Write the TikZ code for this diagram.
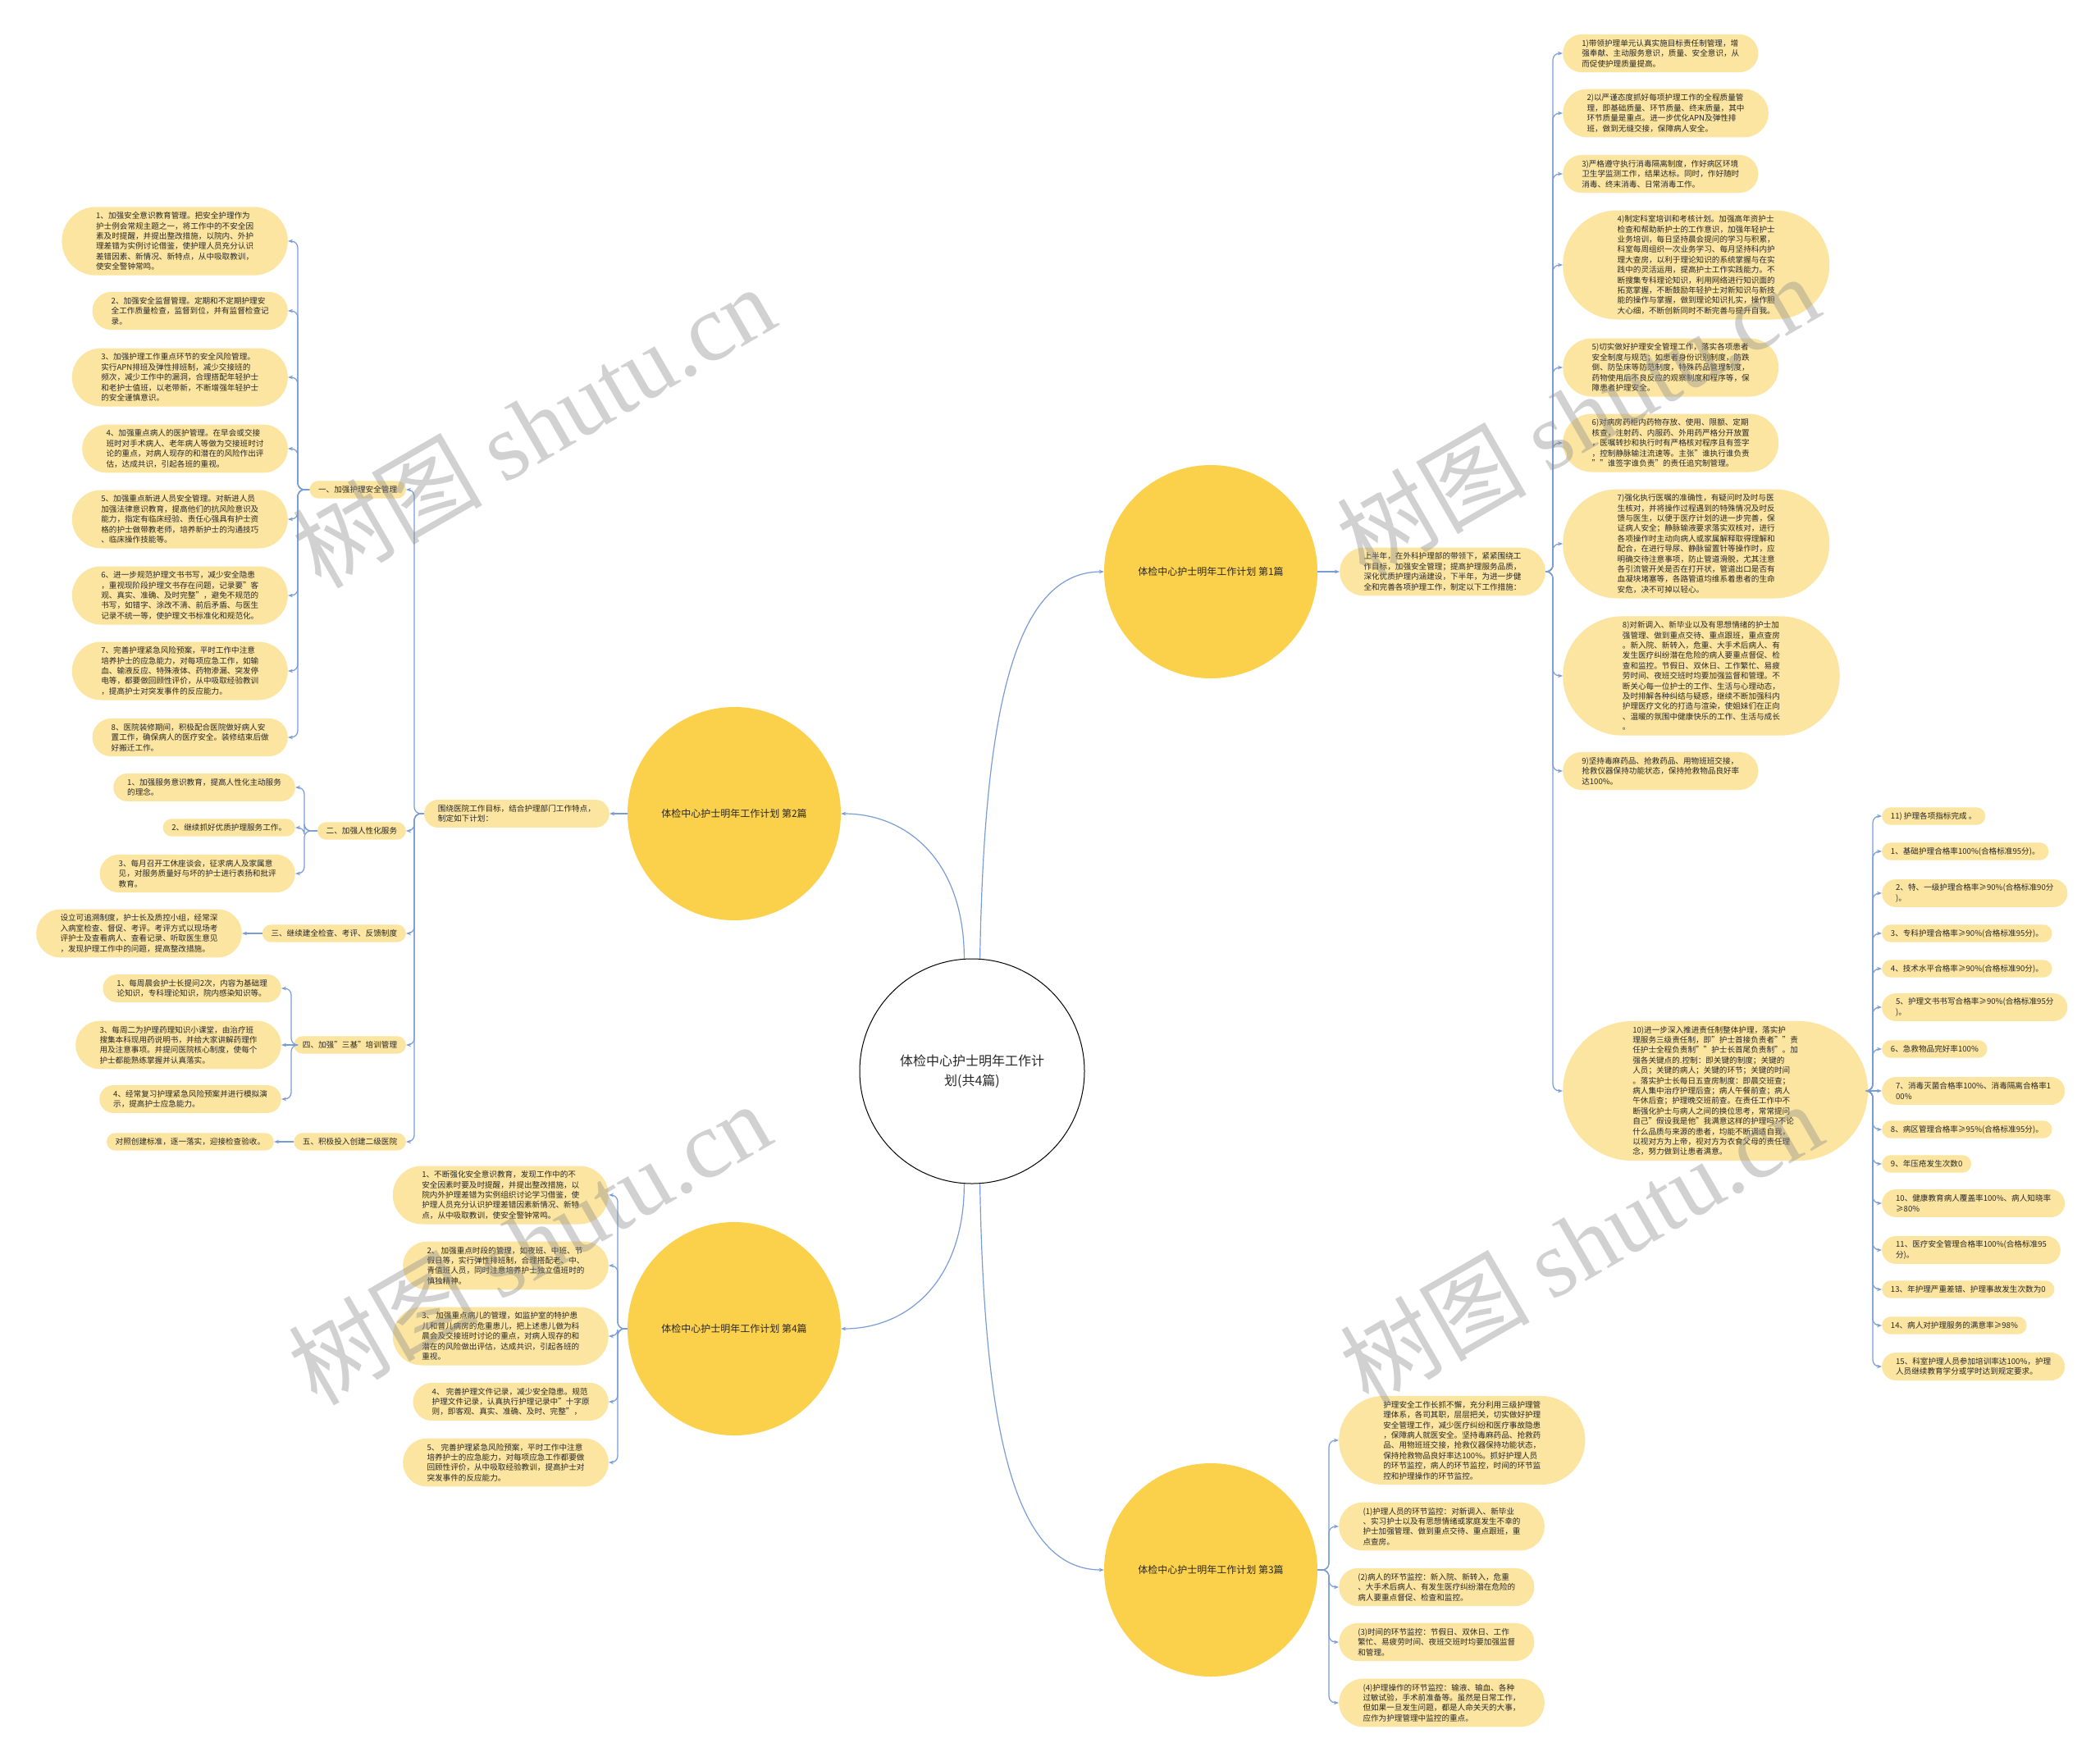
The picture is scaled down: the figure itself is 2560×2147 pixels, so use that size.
\documentclass[tikz,border=0pt]{standalone}
\usepackage{fontspec}
\setmainfont{Noto Sans CJK SC}
\newfontfamily\wmlat{Liberation Serif}
\usetikzlibrary{arrows.meta}
\definecolor{bubfill}{RGB}{252,229,160}
\definecolor{bigfill}{RGB}{251,208,75}
\definecolor{linec}{RGB}{122,156,214}
\definecolor{txt}{RGB}{40,40,40}
\tikzset{
  bub/.style={rectangle, fill=bubfill, text=txt, align=left,
    font=\fontsize{9.6}{12.4}\selectfont,
    minimum height={#1*12.4+9}, inner ysep=0pt,
    inner xsep={(#1*12.4+9)/2}, rounded corners={(#1*12.4+9)/2-0.05}},
  big/.style={circle, fill=bigfill, text=txt, minimum size=260pt,
    font=\fontsize{12}{14}\selectfont},
  conn/.style={draw=linec, line width=1.2pt, rounded corners=8pt,
    -{Stealth[length=6pt,width=4.5pt]}},
  wm/.style={text=black!45, text opacity=0.4, rotate=30,
    font=\fontsize{116}{116}\selectfont}
}
\begin{document}
\begin{tikzpicture}[x=1pt,y=-1pt]
\useasboundingbox (0,0) rectangle (2560,2147);
\fill[white] (0,0) rectangle (2560,2147);

% centre and main branches
\node[circle, draw=black, line width=1pt, fill=white, text=txt, minimum size=274pt,
  align=center, font=\fontsize{16}{24}\selectfont] (c) at (1185,1306)
  {体检中心护士明年工作计\\划(共4篇)};
\node[big] (n1) at (1476,697) {体检中心护士明年工作计划 第1篇};
\node[big] (n2) at (895,992) {体检中心护士明年工作计划 第2篇};
\node[big] (n4) at (895,1620) {体检中心护士明年工作计划 第4篇};
\node[big] (n3) at (1476,1914) {体检中心护士明年工作计划 第3篇};

% ---------- branch 1 ----------
\node[bub=4, anchor=west] (i1) at (1633,697) {上半年，在外科护理部的带领下，紧紧围绕工\\作目标，加强安全管理；提高护理服务品质，\\深化优质护理内涵建设，下半年，为进一步健\\全和完善各项护理工作，制定以下工作措施：};
\node[bub=3, anchor=west] (a1) at (1905,65) {1)带领护理单元认真实施目标责任制管理，增\\强奉献、主动服务意识，质量、安全意识，从\\而促使护理质量提高。};
\node[bub=4, anchor=west] (a2) at (1905,138) {2)以严谨态度抓好每项护理工作的全程质量管\\理，即基础质量、环节质量、终末质量，其中\\环节质量是重点。进一步优化APN及弹性排\\班，做到无缝交接，保障病人安全。};
\node[bub=3, anchor=west] (a3) at (1905,212) {3)严格遵守执行消毒隔离制度，作好病区环境\\卫生学监测工作，结果达标。同时，作好随时\\消毒、终末消毒、日常消毒工作。};
\node[bub=10, anchor=west] (a4) at (1905,323) {4)制定科室培训和考核计划。加强高年资护士\\检查和帮助新护士的工作意识，加强年轻护士\\业务培训，每日坚持晨会提问的学习与积累，\\科室每周组织一次业务学习、每月坚持科内护\\理大查房，以利于理论知识的系统掌握与在实\\践中的灵活运用，提高护士工作实践能力。不\\断搜集专科理论知识，利用网络进行知识面的\\拓宽掌握，不断鼓励年轻护士对新知识与新技\\能的操作与掌握，做到理论知识扎实，操作胆\\大心细，不断创新同时不断完善与提升自我。};
\node[bub=5, anchor=west] (a5) at (1905,448) {5)切实做好护理安全管理工作，落实各项患者\\安全制度与规范；如患者身份识别制度，防跌\\倒、防坠床等防范制度，特殊药品管理制度，\\药物使用后不良反应的观察制度和程序等，保\\障患者护理安全。};
\node[bub=5, anchor=west] (a6) at (1905,540) {6)对病房药柜内药物存放、使用、限额、定期\\核查，注射药、内服药、外用药严格分开放置\\，医嘱转抄和执行时有严格核对程序且有签字\\，控制静脉输注流速等。主张"谁执行谁负责\\""谁签字谁负责"的责任追究制管理。};
\node[bub=10, anchor=west] (a7) at (1905,663) {7)强化执行医嘱的准确性，有疑问时及时与医\\生核对，并将操作过程遇到的特殊情况及时反\\馈与医生，以便于医疗计划的进一步完善，保\\证病人安全；静脉输液要求落实双核对，进行\\各项操作时主动向病人或家属解释取得理解和\\配合，在进行导尿、静脉留置针等操作时，应\\明确交待注意事项，防止管道滑脱，尤其注意\\各引流管开关是否在打开状，管道出口是否有\\血凝块堵塞等，各路管道均维系着患者的生命\\安危，决不可掉以轻心。};
\node[bub=11, anchor=west] (a8) at (1905,824) {8)对新调入、新毕业以及有思想情绪的护士加\\强管理、做到重点交待、重点跟班，重点查房\\。新入院、新转入，危重、大手术后病人、有\\发生医疗纠纷潜在危险的病人要重点督促、检\\查和监控。节假日、双休日、工作繁忙、易疲\\劳时间、夜班交班时均要加强监督和管理。不\\断关心每一位护士的工作、生活与心理动态，\\及时排解各种纠结与疑惑，继续不断加强科内\\护理医疗文化的打造与渲染，使姐妹们在正向\\、温暖的氛围中健康快乐的工作、生活与成长\\。};
\node[bub=3, anchor=west] (a9) at (1905,940) {9)坚持毒麻药品、抢救药品、用物班班交接，\\抢救仪器保持功能状态，保持抢救物品良好率\\达100\%。};
\node[bub=13, anchor=west] (a10) at (1905,1330) {10)进一步深入推进责任制整体护理，落实护\\理服务三级责任制，即"护士首接负责者""责\\任护士全程负责制""护士长首尾负责制"。加\\强各关键点的.控制：即关键的制度；关键的\\人员；关键的病人；关键的环节；关键的时间\\。落实护士长每日五查房制度：即晨交班查；\\病人集中治疗护理后查；病人午餐前查；病人\\午休后查；护理晚交班前查。在责任工作中不\\断强化护士与病人之间的换位思考，常常提问\\自己"假设我是他"我满意这样的护理吗?不论\\什么品质与来源的患者，均能不断调适自我，\\以视对方为上帝，视对方为衣食父母的责任理\\念，努力做到让患者满意。};

\node[bub=1, anchor=west] (r0) at (2294,995) {11) 护理各项指标完成 。};
\node[bub=1, anchor=west] (r1) at (2294,1038) {1、基础护理合格率100\%(合格标准95分)。};
\node[bub=2, anchor=west] (r2) at (2294,1089) {2、特、一级护理合格率≥90\%(合格标准90分\\)。};
\node[bub=1, anchor=west] (r3) at (2294,1138) {3、专科护理合格率≥90\%(合格标准95分)。};
\node[bub=1, anchor=west] (r4) at (2294,1181) {4、技术水平合格率≥90\%(合格标准90分)。};
\node[bub=2, anchor=west] (r5) at (2294,1228) {5、护理文书书写合格率≥90\%(合格标准95分\\)。};
\node[bub=1, anchor=west] (r6) at (2294,1279) {6、急救物品完好率100\%};
\node[bub=2, anchor=west] (r7) at (2294,1330) {7、消毒灭菌合格率100\%、消毒隔离合格率1\\00\%};
\node[bub=1, anchor=west] (r8) at (2294,1377) {8、病区管理合格率≥95\%(合格标准95分)。};
\node[bub=1, anchor=west] (r9) at (2294,1419) {9、年压疮发生次数0};
\node[bub=2, anchor=west] (r10) at (2294,1467) {10、健康教育病人覆盖率100\%、病人知晓率\\≥80\%};
\node[bub=2, anchor=west] (r11) at (2294,1524) {11、医疗安全管理合格率100\%(合格标准95\\分)。};
\node[bub=1, anchor=west] (r12) at (2294,1572) {13、年护理严重差错、护理事故发生次数为0};
\node[bub=1, anchor=west] (r13) at (2294,1616) {14、病人对护理服务的满意率≥98\%};
\node[bub=2, anchor=west] (r14) at (2294,1666) {15、科室护理人员参加培训率达100\%，护理\\人员继续教育学分或学时达到规定要求。};

% ---------- branch 2 ----------
\node[bub=2, anchor=east] (i2) at (743,992) {围绕医院工作目标，结合护理部门工作特点，\\制定如下计划：};
\node[bub=1, anchor=east] (k1) at (495,597) {一、加强护理安全管理};
\node[bub=1, anchor=east] (k2) at (495,1013) {二、加强人性化服务};
\node[bub=1, anchor=east] (k3) at (495,1138) {三、继续建全检查、考评、反馈制度};
\node[bub=1, anchor=east] (k4) at (495,1274) {四、加强"三基"培训管理};
\node[bub=1, anchor=east] (k5) at (495,1392) {五、积极投入创建二级医院};

\node[bub=6, anchor=east] (L1) at (351,294) {1、加强安全意识教育管理。把安全护理作为\\护士例会常规主题之一，将工作中的不安全因\\素及时提醒，并提出整改措施，以院内、外护\\理差错为实例讨论借鉴，使护理人员充分认识\\差错因素、新情况、新特点，从中吸取教训，\\使安全警钟常鸣。};
\node[bub=3, anchor=east] (L2) at (351,379) {2、加强安全监督管理。定期和不定期护理安\\全工作质量检查，监督到位，并有监督检查记\\录。};
\node[bub=5, anchor=east] (L3) at (351,460) {3、加强护理工作重点环节的安全风险管理。\\实行APN排班及弹性排班制，减少交接班的\\频次，减少工作中的漏洞，合理搭配年轻护士\\和老护士值班，以老带新，不断增强年轻护士\\的安全谨慎意识。};
\node[bub=4, anchor=east] (L4) at (351,547) {4、加强重点病人的医护管理。在早会或交接\\班时对手术病人、老年病人等做为交接班时讨\\论的重点，对病人现存的和潜在的风险作出评\\估，达成共识，引起各班的重视。};
\node[bub=5, anchor=east] (L5) at (351,633) {5、加强重点新进人员安全管理。对新进人员\\加强法律意识教育，提高他们的抗风险意识及\\能力，指定有临床经验、责任心强具有护士资\\格的护士做带教老师，培养新护士的沟通技巧\\、临床操作技能等。};
\node[bub=5, anchor=east] (L6) at (351,726) {6、进一步规范护理文书书写，减少安全隐患\\，重视现阶段护理文书存在问题，记录要"客\\观、真实、准确、及时完整"，避免不规范的\\书写，如错字、涂改不清、前后矛盾、与医生\\记录不统一等，使护理文书标准化和规范化。};
\node[bub=5, anchor=east] (L7) at (351,818) {7、完善护理紧急风险预案，平时工作中注意\\培养护士的应急能力，对每项应急工作，如输\\血、输液反应、特殊液体、药物渗漏、突发停\\电等，都要做回顾性评价，从中吸取经验教训\\，提高护士对突发事件的反应能力。};
\node[bub=3, anchor=east] (L8) at (351,899) {8、医院装修期间，积极配合医院做好病人安\\置工作，确保病人的医疗安全。装修结束后做\\好搬迁工作。};

\node[bub=2, anchor=east] (M1) at (360,960) {1、加强服务意识教育，提高人性化主动服务\\的理念。};
\node[bub=1, anchor=east] (M2) at (360,1009) {2、继续抓好优质护理服务工作。};
\node[bub=3, anchor=east] (M3) at (360,1065) {3、每月召开工休座谈会，征求病人及家属意\\见，对服务质量好与坏的护士进行表扬和批评\\教育。};

\node[bub=4, anchor=east] (N1) at (295,1138) {设立可追溯制度，护士长及质控小组，经常深\\入病室检查、督促、考评。考评方式以现场考\\评护士及查看病人、查看记录、听取医生意见\\，发现护理工作中的问题，提高整改措施。};

\node[bub=2, anchor=east] (P1) at (343,1205) {1、每周晨会护士长提问2次，内容为基础理\\论知识，专科理论知识，院内感染知识等。};
\node[bub=4, anchor=east] (P2) at (343,1274) {3、每周二为护理药理知识小课堂，由治疗班\\搜集本科现用药说明书，并给大家讲解药理作\\用及注意事项。并提问医院核心制度，使每个\\护士都能熟练掌握并认真落实。};
\node[bub=2, anchor=east] (P3) at (343,1340) {4、经常复习护理紧急风险预案并进行模拟演\\示，提高护士应急能力。};

\node[bub=1, anchor=east] (Q1) at (334,1392) {对照创建标准，逐一落实，迎接检查验收。};

% ---------- branch 4 ----------
\node[bub=5, anchor=east] (B1) at (742,1457) {1、不断强化安全意识教育，发现工作中的不\\安全因素时要及时提醒，并提出整改措施，以\\院内外护理差错为实例组织讨论学习借鉴，使\\护理人员充分认识护理差错因素新情况、新特\\点，从中吸取教训，使安全警钟常鸣。};
\node[bub=4, anchor=east] (B2) at (742,1543) {2、 加强重点时段的管理，如夜班、中班、节\\假日等，实行弹性排班制，合理搭配老、中、\\青值班人员，同时注意培养护士独立值班时的\\慎独精神。};
\node[bub=5, anchor=east] (B3) at (742,1629) {3、 加强重点病儿的管理，如监护室的特护患\\儿和普儿病房的危重患儿，把上述患儿做为科\\晨会及交接班时讨论的重点，对病人现存的和\\潜在的风险做出评估，达成共识，引起各班的\\重视。};
\node[bub=3, anchor=east] (B4) at (742,1709) {4、 完善护理文件记录，减少安全隐患。规范\\护理文件记录，认真执行护理记录中"十字原\\则，即客观、真实、准确、及时、完整"，};
\node[bub=4, anchor=east] (B5) at (742,1783) {5、 完善护理紧急风险预案，平时工作中注意\\培养护士的应急能力，对每项应急工作都要做\\回顾性评价，从中吸取经验教训，提高护士对\\突发事件的反应能力。};

% ---------- branch 3 ----------
\node[bub=8, anchor=west] (C0) at (1632,1756) {护理安全工作长抓不懈，充分利用三级护理管\\理体系，各司其职，层层把关，切实做好护理\\安全管理工作，减少医疗纠纷和医疗事故隐患\\，保障病人就医安全。坚持毒麻药品、抢救药\\品、用物班班交接，抢救仪器保持功能状态，\\保持抢救物品良好率达100\%。抓好护理人员\\的环节监控，病人的环节监控，时间的环节监\\控和护理操作的环节监控。};
\node[bub=4, anchor=west] (C1) at (1632,1861) {(1)护理人员的环节监控：对新调入、新毕业\\、实习护士以及有思想情绪或家庭发生不幸的\\护士加强管理、做到重点交待、重点跟班，重\\点查房。};
\node[bub=3, anchor=west] (C2) at (1632,1935) {(2)病人的环节监控：新入院、新转入，危重\\、大手术后病人、有发生医疗纠纷潜在危险的\\病人要重点督促、检查和监控。};
\node[bub=3, anchor=west] (C3) at (1632,2002) {(3)时间的环节监控：节假日、双休日、工作\\繁忙、易疲劳时间、夜班交班时均要加强监督\\和管理。};
\node[bub=4, anchor=west] (C4) at (1632,2076) {(4)护理操作的环节监控：输液、输血、各种\\过敏试验，手术前准备等。虽然是日常工作，\\但如果一旦发生问题，都是人命关天的大事，\\应作为护理管理中监控的重点。};

% bracket x positions
\coordinate (bA) at (1893,0);
\coordinate (bR) at (2283,0);
\coordinate (bI) at (505,0);
\coordinate (bK1) at (363,0);
\coordinate (bK2) at (371,0);
\coordinate (bK4) at (355,0);
\coordinate (bN4) at (753,0);
\coordinate (bN3) at (1620,0);

% connectors: centre to branches
\draw[conn] (c.86) .. controls +(5,-300) and +(-110,0) .. (n1.west);
\draw[conn] (c.94) .. controls +(0,-120) and +(80,0) .. (n2.east);
\draw[conn] (c.266) .. controls +(0,120) and +(80,0) .. (n4.east);
\draw[conn] (c.274) .. controls +(5,300) and +(-110,0) .. (n3.west);

\draw[conn] (n1.east) -- (i1.west);
\draw[conn] (n2.west) -- (i2.east);

\foreach \k in {a1,a2,a3,a4,a5,a6,a7,a8,a9,a10}
  \draw[conn] (i1.east) -- (i1.east -| bA) -- (\k.west -| bA) -- (\k.west);
\foreach \k in {r0,r1,r2,r3,r4,r5,r6,r8,r9,r10,r11,r12,r13,r14}
  \draw[conn] (a10.east) -- (a10.east -| bR) -- (\k.west -| bR) -- (\k.west);
\draw[conn] (a10.east) -- (r7.west);

\foreach \k in {k1,k2,k3,k4,k5}
  \draw[conn] (i2.west) -- (i2.west -| bI) -- (\k.east -| bI) -- (\k.east);
\foreach \k in {L1,L2,L3,L4,L5,L6,L7,L8}
  \draw[conn] (k1.west) -- (k1.west -| bK1) -- (\k.east -| bK1) -- (\k.east);
\foreach \k in {M1,M2,M3}
  \draw[conn] (k2.west) -- (k2.west -| bK2) -- (\k.east -| bK2) -- (\k.east);
\draw[conn] (k3.west) -- (N1.east);
\foreach \k in {P1,P3}
  \draw[conn] (k4.west) -- (k4.west -| bK4) -- (\k.east -| bK4) -- (\k.east);
\draw[conn] (k4.west) -- (P2.east);
\draw[conn] (k5.west) -- (Q1.east);

\foreach \k in {B1,B2,B3,B4,B5}
  \draw[conn] (n4.west) -- (n4.west -| bN4) -- (\k.east -| bN4) -- (\k.east);
\foreach \k in {C0,C1,C2,C3,C4}
  \draw[conn] (n3.east) -- (n3.east -| bN3) -- (\k.west -| bN3) -- (\k.west);

% watermarks
\node[wm] (w1) at (650,519) {树图 {\wmlat shutu.cn}};
\node[wm] (w2) at (1923,506) {树图 {\wmlat shutu.cn}};
\node[wm] (w3) at (645,1515) {树图 {\wmlat shutu.cn}};
\node[wm] (w4) at (1927,1515) {树图 {\wmlat shutu.cn}};
\end{tikzpicture}
\end{document}
